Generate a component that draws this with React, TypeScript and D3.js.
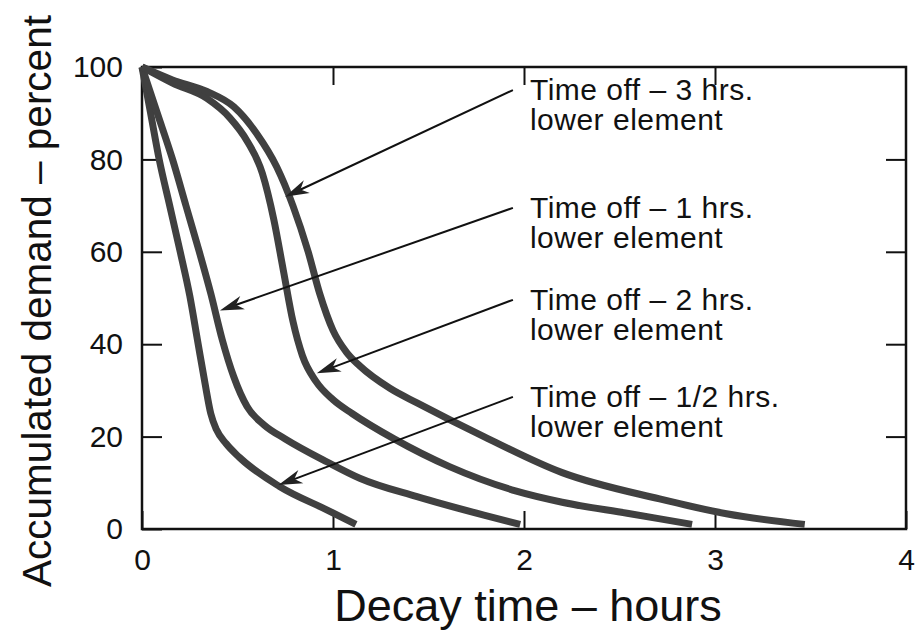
import React, { useEffect, useRef } from 'react';
import * as d3 from 'd3';

// curves: decay time (hours) vs accumulated demand (percent)
const halfHrTime = [0, 0.045, 0.09, 0.145, 0.2, 0.25, 0.29, 0.33, 0.36, 0.39, 0.44, 0.51, 0.72, 0.97, 1.12];
const halfHrPct = [100, 90, 80, 70, 60, 50.5, 41, 31.5, 25, 21.5, 18.5, 15.5, 9.2, 4.1, 1];

const oneHrTime = [0, 0.08, 0.16, 0.23, 0.3, 0.36, 0.42, 0.48, 0.55, 0.64, 0.75, 0.97, 1.14, 1.44, 1.79, 1.98];
const oneHrPct = [100, 90, 80, 70, 60, 51, 41, 33, 26.5, 22.5, 19.5, 14.5, 11, 7, 3, 1];

const twoHrTime = [0, 0.16, 0.34, 0.46, 0.55, 0.63, 0.69, 0.74, 0.79, 0.84, 0.91, 1.0, 1.1, 1.32, 1.61, 1.96, 2.2, 2.54, 2.88];
const twoHrPct = [100, 96.5, 93.2, 89, 84, 77, 67, 56, 45, 37.5, 32, 28, 25, 19.5, 13.5, 8.2, 5.8, 3.4, 1];

const threeHrTime = [0, 0.16, 0.34, 0.48, 0.6, 0.705, 0.79, 0.87, 0.93, 1.0, 1.07, 1.14, 1.3, 1.44, 1.79, 2.2, 2.71, 3.06, 3.47];
const threeHrPct = [100, 97.2, 94.7, 91.4, 85.6, 78.4, 70, 60, 51, 43, 38.3, 35.3, 30.4, 27.3, 20, 12.2, 6.5, 3.3, 1];

// annotations: label, where the arrow points (data units), where the arrow starts
const noteLabels = ['Time off \u2013 3 hrs.', 'Time off \u2013 1 hrs.', 'Time off \u2013 2 hrs.', 'Time off \u2013 1/2 hrs.'];
const noteSub = 'lower element';
const noteTipTime = [0.749, 0.408, 0.915, 0.714];
const noteTipPct = [71.9, 47.3, 33.7, 9.5];
const noteStartTime = 1.942;
const noteStartPct = [95, 69.5, 49.6, 28.6];

const xTicks = [0, 1, 2, 3, 4];
const yTicks = [0, 20, 40, 60, 80, 100];

const W = 916;
const H = 633;
const FONT = '"Liberation Sans", Arial, Helvetica, sans-serif';

export default function App() {
  const ref = useRef<SVGSVGElement>(null);

  useEffect(() => {
    const svg = d3.select(ref.current);
    svg.selectAll('*').remove();

    const left = 142, right = 906, top = 67, bottom = 529;
    const x = d3.scaleLinear().domain([0, 4]).range([left, right]);
    const y = d3.scaleLinear().domain([0, 100]).range([bottom, top]);

    const curves = [
      { t: halfHrTime, p: halfHrPct },
      { t: oneHrTime, p: oneHrPct },
      { t: twoHrTime, p: twoHrPct },
      { t: threeHrTime, p: threeHrPct },
    ];

    // axes with inward ticks on all four sides
    const tickFont = (g: any) => g.selectAll('text').attr('font-family', FONT).attr('font-size', 30).attr('fill', '#111');
    const strip = (g: any) => { g.select('.domain').remove(); g.selectAll('line').attr('stroke', '#111').attr('stroke-width', 2); };

    svg.append('g')
      .attr('transform', `translate(${left},0)`)
      .call(d3.axisLeft(y).tickValues(yTicks).tickSizeInner(-20).tickSizeOuter(0).tickPadding(19).tickFormat(d3.format('d')))
      .call(strip).call(tickFont);
    svg.append('g')
      .attr('transform', `translate(${right},0)`)
      .call(d3.axisRight(y).tickValues(yTicks.slice(1, -1)).tickSizeInner(-20).tickSizeOuter(0).tickFormat(() => ''))
      .call(strip);
    svg.append('g')
      .attr('transform', `translate(0,${bottom})`)
      .call(d3.axisBottom(x).tickValues(xTicks).tickSizeInner(-18).tickSizeOuter(0).tickPadding(20).tickFormat(d3.format('d')))
      .call(strip).call(tickFont);
    svg.append('g')
      .attr('transform', `translate(0,${top})`)
      .call(d3.axisTop(x).tickValues(xTicks.slice(1, -1)).tickSizeInner(-18).tickSizeOuter(0).tickFormat(() => ''))
      .call(strip);

    svg.append('rect')
      .attr('x', left).attr('y', top)
      .attr('width', right - left).attr('height', bottom - top)
      .attr('fill', 'none').attr('stroke', '#111').attr('stroke-width', 2.5);

    const gen = d3.line().curve(d3.curveMonotoneX);
    curves.forEach(c => {
      const pts: [number, number][] = c.t.map((t, i) => [x(t), y(c.p[i])]);
      svg.append('path')
        .attr('d', gen(pts))
        .attr('fill', 'none')
        .attr('stroke', '#404040')
        .attr('stroke-width', 7)
        .attr('stroke-linecap', 'butt')
        .attr('stroke-linejoin', 'round');
    });

    // arrows + labels
    noteLabels.forEach((lab, i) => {
      const tx = x(noteTipTime[i]), ty = y(noteTipPct[i]);
      const sx = x(noteStartTime), sy = y(noteStartPct[i]);
      const len = Math.hypot(sx - tx, sy - ty);
      const ux = (sx - tx) / len, uy = (sy - ty) / len;
      const nx = -uy, ny = ux;
      svg.append('line')
        .attr('x1', tx + ux * 12).attr('y1', ty + uy * 12)
        .attr('x2', sx).attr('y2', sy)
        .attr('stroke', '#111').attr('stroke-width', 2);
      const head = [
        [tx, ty],
        [tx + ux * 24 + nx * 7, ty + uy * 24 + ny * 7],
        [tx + ux * 17, ty + uy * 17],
        [tx + ux * 24 - nx * 7, ty + uy * 24 - ny * 7],
      ];
      svg.append('path')
        .attr('d', 'M' + head.map(p => p.join(',')).join('L') + 'Z')
        .attr('fill', '#222');

      const txt = svg.append('text')
        .attr('font-family', FONT).attr('font-size', 30).attr('letter-spacing', 0.5).attr('fill', '#111')
        .attr('x', sx + 17).attr('y', sy + 10);
      txt.append('tspan').attr('x', sx + 17).text(lab);
      txt.append('tspan').attr('x', sx + 17).attr('dy', 30).text(noteSub);
    });

    // axis titles
    svg.append('text')
      .attr('x', (left + right) / 2 + 4).attr('y', 621)
      .attr('text-anchor', 'middle')
      .attr('font-family', FONT).attr('font-size', 45).attr('fill', '#111')
      .text('Decay time \u2013 hours');

    svg.append('text')
      .attr('transform', `translate(51,${301}) rotate(-90)`)
      .attr('text-anchor', 'middle')
      .attr('font-family', FONT).attr('font-size', 40.5).attr('fill', '#111')
      .text('Accumulated demand \u2013 percent');
  }, []);

  return (
    <svg ref={ref} width={W} height={H} style={{ position: 'absolute', left: 0, top: 0, background: '#fff' }} />
  );
}
